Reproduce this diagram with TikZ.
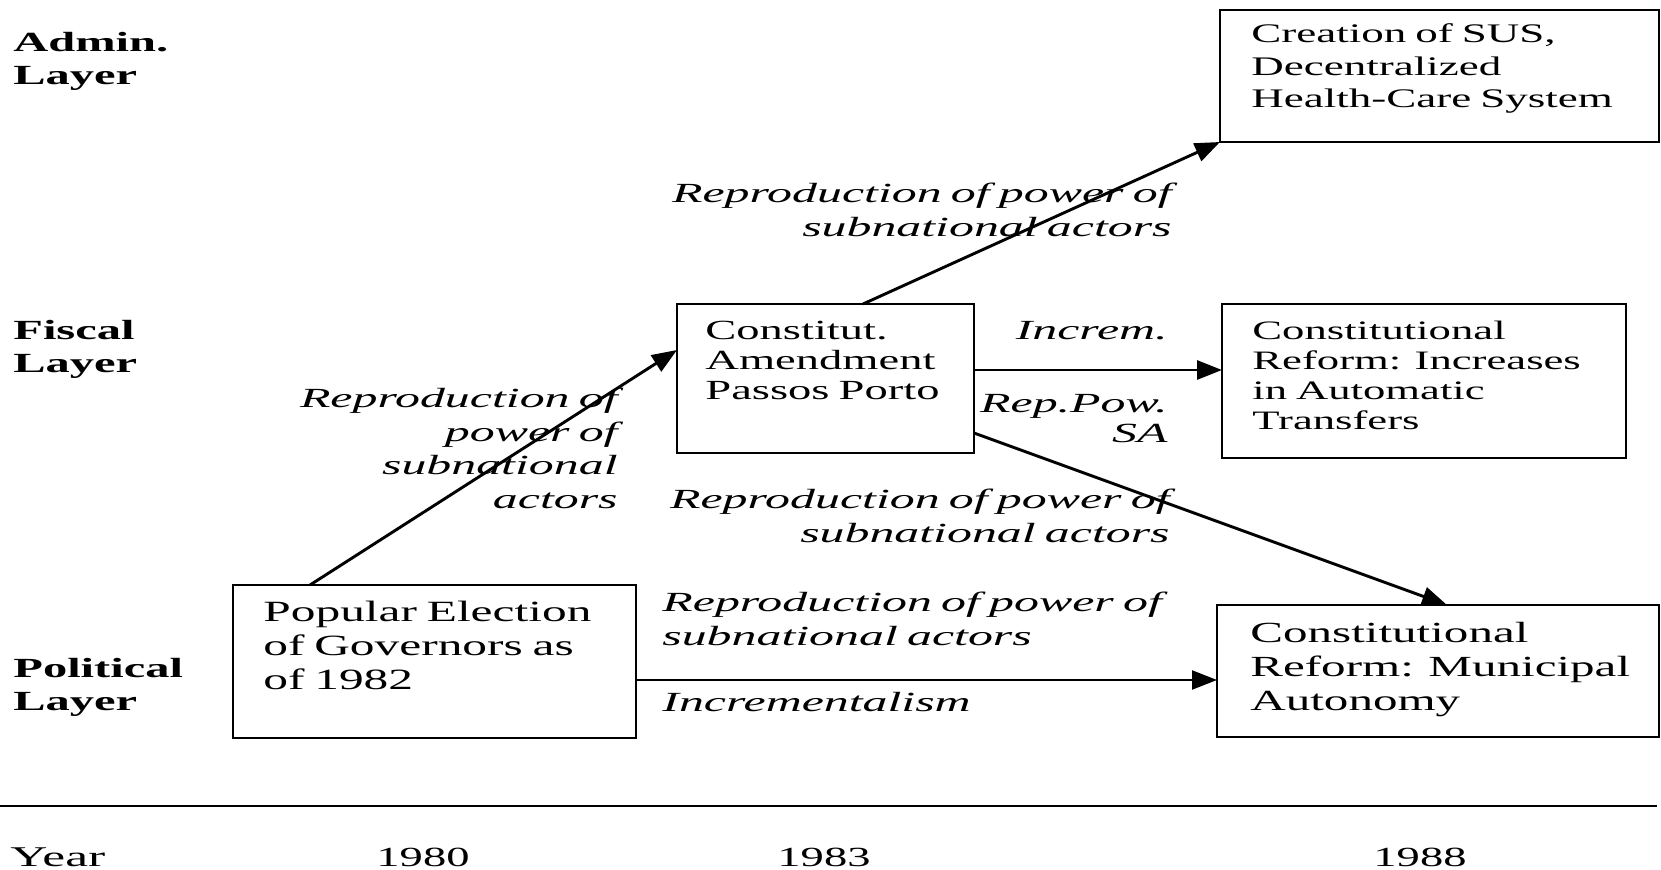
\documentclass[tikz,border=0pt]{standalone}
\usepackage{fontspec}
\setmainfont{Liberation Serif}[FakeStretch=1.68]
\newfontfamily\labelfont{Liberation Serif}[FakeStretch=1.8]
\newfontfamily\layerfont{Liberation Serif}[FakeStretch=1.75]
\usetikzlibrary{arrows.meta,calc,fit}
\begin{document}
\begin{tikzpicture}[x=0.5pt,y=-0.5pt,
  box/.style={draw,line width=1.4pt,inner sep=0pt,outer sep=0pt},
  boxtext/.style={anchor=base west,inner sep=0pt,text width=250pt,align=left,
    font=\fontsize{13.85pt}{16.5pt}\selectfont},
  layer/.style={anchor=base west,inner sep=0pt,text width=120pt,align=left,
    font=\layerfont\bfseries\fontsize{13.85pt}{16.5pt}\selectfont},
  lblr/.style={anchor=base east,inner sep=0pt,text width=300pt,align=right,
    font=\labelfont\itshape\fontsize{13.85pt}{16.75pt}\selectfont},
  lbll/.style={anchor=base west,inner sep=0pt,text width=300pt,align=left,
    font=\labelfont\itshape\fontsize{13.85pt}{16.75pt}\selectfont},
  yearlbl/.style={inner sep=0pt,font=\fontsize{13.85pt}{16.5pt}\selectfont},
  arr/.style={line width=1.45pt,-{Triangle[length=12.5pt,width=9.5pt]}},
]
\fill[white] (0,0) rectangle (1661,870);
\useasboundingbox (0,0) rectangle (1661,870);

% layer captions
\node[layer] (admin) at (13,52) {Admin.\\Layer};
\node[layer] (fiscal) at (13,340) {Fiscal\\Layer};
\node[layer] (political) at (13,678) {Political\\Layer};

% boxes
\node[box,fit={(1220,10) (1659,142)}] (sus) {};
\node[box,fit={(677,304) (974,453)}] (con) {};
\node[box,fit={(1222,304) (1626,458)}] (inc) {};
\node[box,fit={(233,585) (636,738)}] (pop) {};
\node[box,fit={(1217,605) (1659,737)}] (mun) {};

% box contents
\node[boxtext,font=\fontsize{13.4pt}{16.25pt}\selectfont] (sust) at (1251,43) {Creation of SUS,\\Decentralized\\Health-Care System};
\node[boxtext,font=\fontsize{13.85pt}{15pt}\selectfont] (cont) at (705,340) {Constitut.\\Amendment\\Passos Porto};
\node[boxtext,font=\fontsize{13.3pt}{15pt}\selectfont] (inct) at (1252,340) {Constitutional\\Reform: Increases\\in Automatic\\Transfers};
\node[boxtext,font=\fontsize{14.7pt}{17pt}\selectfont] (popt) at (263,622) {Popular Election\\of Governors as\\of 1982};
\node[boxtext,font=\fontsize{14.6pt}{16.9pt}\selectfont] (munt) at (1250,643) {Constitutional\\Reform: Municipal\\Autonomy};

% connectors
\draw[arr] ($(pop.north west)+(77,0)$) -- ($(con.north west)+(0,46)$);
\draw[arr] ($(con.north west)+(186,0)$) -- (sus.south west);
\draw[arr] ($(con.north east)+(0,66)$) -- ($(inc.north west)+(0,66)$);
\draw[arr] ($(con.north east)+(0,129)$) -- ($(mun.north west)+(230,0)$);
\draw[arr,line width=1.1pt] ($(pop.north east)+(0,95)$) -- ($(mun.north west)+(0,75)$);

% connector labels
\node[lblr] (l1) at (1172,203) {Reproduction of power of\\subnational actors};
\node[lblr] (l2) at (1168,340) {Increm.};
\node[lblr,font=\labelfont\itshape\fontsize{13.85pt}{15pt}\selectfont] (l3) at (1168,413) {Rep.Pow.\\SA};
\node[lblr] (l4) at (618,408) {Reproduction of\\power of\\subnational\\actors};
\node[lblr] (l5) at (1170,509) {Reproduction of power of\\subnational actors};
\node[lbll] (l6) at (662,612) {Reproduction of power of\\subnational actors};
\node[lbll] (l7) at (662,712) {Incrementalism};

% time axis
\coordinate (axl) at (0,806);
\coordinate (axr) at (1657,806);
\draw[line width=0.75pt] (axl) -- (axr);
\node[yearlbl,anchor=base west,font=\labelfont\fontsize{14.3pt}{16.5pt}\selectfont] (year) at (10,867) {Year};
\node[yearlbl,anchor=base] (y1980) at (423,867) {1980};
\node[yearlbl,anchor=base] (y1983) at (824,867) {1983};
\node[yearlbl,anchor=base] (y1988) at (1420,867) {1988};
\end{tikzpicture}
\end{document}
